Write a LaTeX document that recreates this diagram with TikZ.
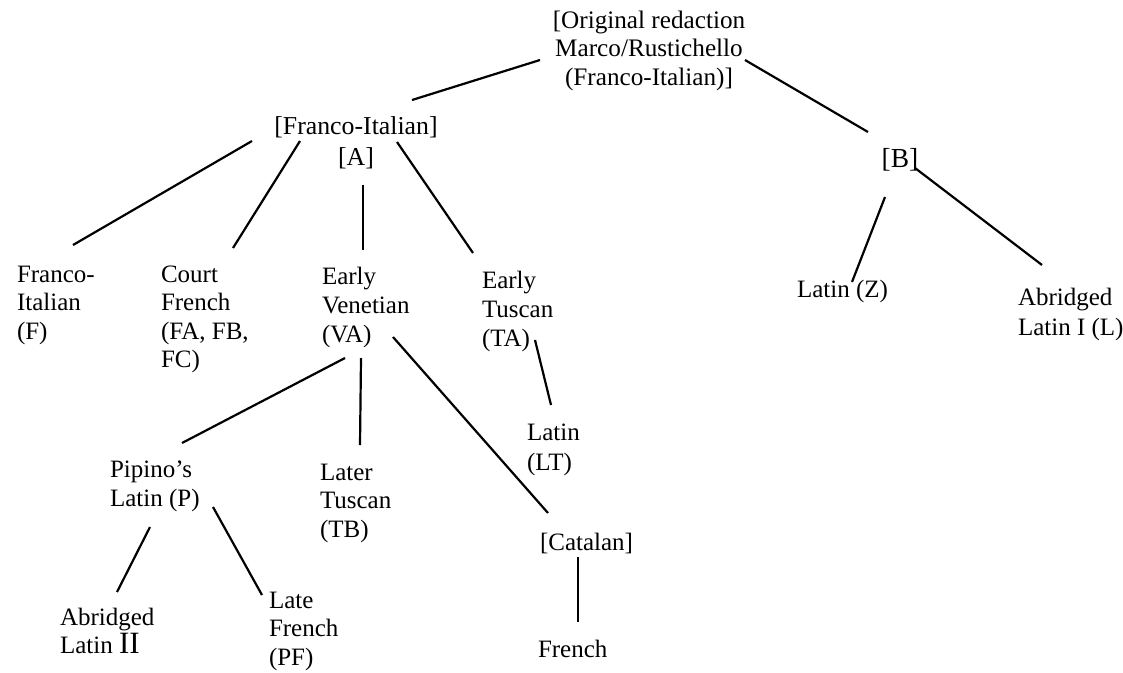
\documentclass[tikz,border=0pt]{standalone}
\usepackage{fontspec}
\setmainfont{Liberation Serif}
\newcommand\mystack[2]{\begin{tabular}[t]{@{}#1@{}}#2\end{tabular}}
\begin{document}
\begin{tikzpicture}[x=1pt,y=-1pt,
  lbl/.style={inner sep=0pt, outer sep=0pt, anchor=base west,
    font=\fontsize{25}{28.6}\selectfont},
  clbl/.style={lbl, anchor=base},
  conn/.style={line width=2.2pt, black}]
\useasboundingbox (0,0) rectangle (1123,672);

% nodes
\node[clbl, font=\fontsize{25.2}{28.5}\selectfont] (root) at (649,28) {\mystack{c}{[Original redaction\\Marco/Rustichello\\(Franco-Italian)]}};
\node[clbl, font=\fontsize{25.8}{28.6}\selectfont] (A) at (356,134) {\mystack{c}{[Franco-Italian]\\[2.5pt][A]}};
\node[clbl, font=\fontsize{27.5}{30}\selectfont] (B) at (900,167) {[B]};
\node[lbl] (F) at (17,282) {\mystack{l}{Franco-\\Italian\\(F)}};
\node[lbl] (CF) at (161,282) {\mystack{l}{Court\\French\\(FA, FB,\\FC)}};
\node[lbl, font=\fontsize{25}{29.2}\selectfont] (VA) at (322,284) {\mystack{l}{Early\\Venetian\\(VA)}};
\node[lbl, font=\fontsize{25}{29.2}\selectfont] (TA) at (482,288) {\mystack{l}{Early\\Tuscan\\(TA)}};
\node[lbl] (Z) at (797,297) {Latin (Z)};
\node[lbl, font=\fontsize{25}{30}\selectfont] (L) at (1018,305) {\mystack{l}{Abridged\\Latin I (L)}};
\node[lbl, font=\fontsize{25}{30}\selectfont] (LT) at (527,440) {\mystack{l}{Latin\\(LT)}};
\node[lbl, font=\fontsize{25}{29}\selectfont] (P) at (110,477) {\mystack{l}{Pipino's\\Latin (P)}};
\node[lbl] (TB) at (320,480) {\mystack{l}{Later\\Tuscan\\(TB)}};
\node[lbl] (Cat) at (540,550) {[Catalan]};
\node[lbl] (AbII) at (60,625) {\mystack{l}{Abridged\\Latin {\fontsize{31}{28}\selectfont II}}};
\node[lbl] (LF) at (269,608) {\mystack{l}{Late\\French\\(PF)}};
\node[lbl] (Fr) at (538,657) {French};

% connectors
\draw[conn] ([shift={(-109,32)}]root.base) -- ([shift={(56,-34)}]A.base);
\draw[conn] ([shift={(96,32)}]root.base) -- ([shift={(-32,-35)}]B.base);
\draw[conn] ([shift={(-104,7)}]A.base) -- ([shift={(56,-37)}]F.base west);
\draw[conn] ([shift={(-56,7)}]A.base) -- ([shift={(72,-34)}]CF.base west);
\draw[conn] ([shift={(7,51)}]A.base) -- ([shift={(41,-34)}]VA.base west);
\draw[conn] ([shift={(41,8)}]A.base) -- ([shift={(-9,-35)}]TA.base west);
\draw[conn] ([shift={(-15,30)}]B.base) -- ([shift={(55,-15)}]Z.base west);
\draw[conn] ([shift={(15,1)}]B.base) -- ([shift={(24,-40)}]L.base west);
\draw[conn] ([shift={(23,74)}]VA.base west) -- ([shift={(72,-34)}]P.base west);
\draw[conn] ([shift={(39,74)}]VA.base west) -- ([shift={(40,-35)}]TB.base west);
\draw[conn] ([shift={(71,53)}]VA.base west) -- ([shift={(8,-37)}]Cat.base west);
\draw[conn] ([shift={(53,52)}]TA.base west) -- ([shift={(24,-35)}]LT.base west);
\draw[conn] ([shift={(40,50)}]P.base west) -- ([shift={(57,-33)}]AbII.base west);
\draw[conn] ([shift={(103,30)}]P.base west) -- ([shift={(-7,-13)}]LF.base west);
\draw[conn] ([shift={(38,7)}]Cat.base west) -- ([shift={(40,-35)}]Fr.base west);
\end{tikzpicture}
\end{document}
